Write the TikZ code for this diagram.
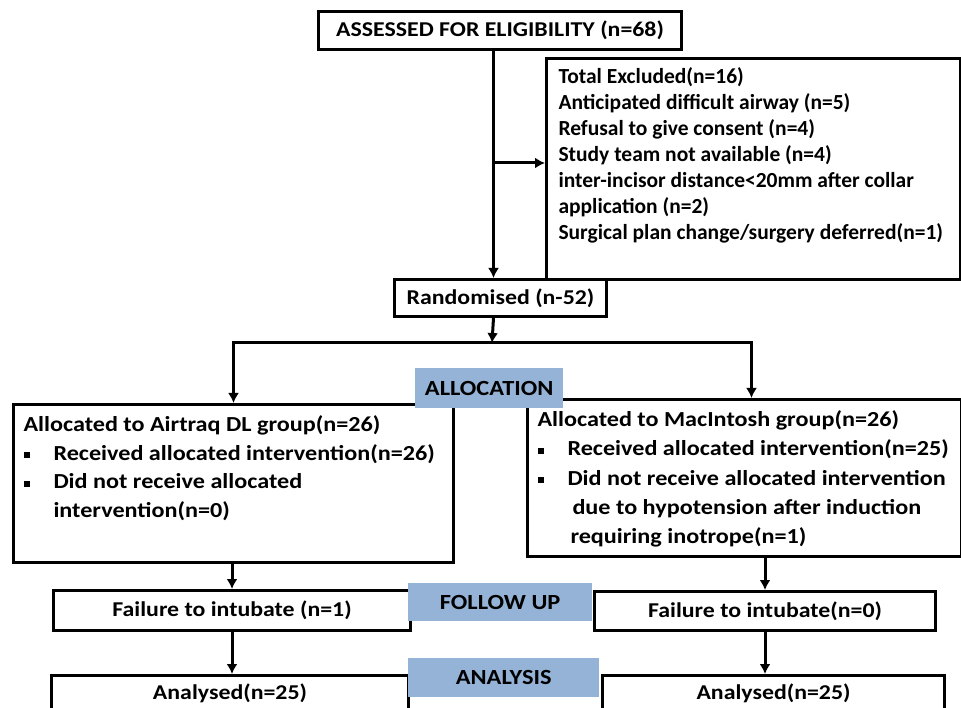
\documentclass[tikz,border=0pt]{standalone}
\usepackage{fontspec}
\setmainfont{Carlito}
\newfontfamily\widefont{Carlito}[FakeStretch=1.13]
\usetikzlibrary{positioning,arrows.meta}
\definecolor{tagblue}{HTML}{95B3D7}
\newcommand{\sqbul}{\par\hangindent=30pt\hangafter=1\noindent\makebox[30pt][l]{\rule[2pt]{6pt}{6pt}}}
\newcommand{\firstline}[1]{\rule{0pt}{#1}}
\tikzset{
  box/.style = {draw, line width=3pt, inner sep=0pt, anchor=north west,
                font=\widefont\bfseries\fontsize{21.1}{26}\selectfont},
  grp/.style = {box, inner xsep=10pt, font=\widefont\bfseries\fontsize{21.4}{28.5}\selectfont},
  tag/.style = {fill=tagblue, inner sep=0pt, anchor=north west,
                font=\widefont\bfseries\fontsize{21.6}{24}\selectfont},
  arr/.style = {line width=3pt, -{Latex[length=10pt,width=11pt]}}
}

\begin{document}
\begin{tikzpicture}[x=1pt, y=-1pt]
  \useasboundingbox (0,0) rectangle (961,708);
  % enrolment
  \node [box, minimum width=363, minimum height=38] (assess) at (317,10) {ASSESSED FOR ELIGIBILITY (n=68)};
  \node [box, inner xsep=12pt, font=\bfseries\fontsize{21.5}{26}\selectfont] (excl) at (545,57) {\parbox[c][221pt][t]{390pt}{\raggedright
    \firstline{25pt}Total Excluded(n=16)\\
    Anticipated difficult airway (n=5)\\
    Refusal to give consent (n=4)\\
    Study team not available (n=4)\\
    inter-incisor distance<20mm after collar\\
    application (n=2)\\
    Surgical plan change/surgery deferred(n=1)}};
  \node [box, minimum width=212, minimum height=37] (rand) at (393,278) {Randomised (n-52)};
  % allocation
  \node [grp] (leftg) at (12,403) {\parbox[c][158pt][t]{420pt}{\raggedright
    \firstline{27pt}Allocated to Airtraq DL group(n=26)
    \sqbul Received allocated intervention(n=26)
    \sqbul Did not receive allocated\newline
    intervention(n=0)}};
  \node [grp, font=\widefont\bfseries\fontsize{21.4}{29.3}\selectfont] (rightg) at (526,398) {\parbox[c][157pt][t]{414pt}{\raggedright
    \firstline{27pt}Allocated to MacIntosh group(n=26)
    \sqbul Received allocated intervention(n=25)
    \sqbul Did not receive allocated intervention\newline
    \hspace*{5pt}due to hypotension after induction\newline
    \hspace*{3pt}requiring inotrope(n=1)}};
  % follow up and analysis
  \node [box, minimum width=357, minimum height=40] (failL) at (52,589) {Failure to intubate (n=1)};
  \node [box, minimum width=341, minimum height=39] (failR) at (593,590) {Failure to intubate(n=0)};
  \node [box, minimum width=357, minimum height=50] (anaL) at (50,674) {\raisebox{1pt}[0pt][0pt]{Analysed(n=25)}};
  \node [box, minimum width=342, minimum height=50] (anaR) at (601,674) {\raisebox{1pt}[0pt][0pt]{Analysed(n=25)}};
  % stage labels
  \node [tag, minimum width=148, minimum height=40] (alloctag) at (415,368) {ALLOCATION};
  \node [tag, minimum width=184, minimum height=38] (followtag) at (408,583) {FOLLOW UP};
  \node [tag, minimum width=191, minimum height=39] (anatag) at (408,658) {ANALYSIS};
  % connectors
  \coordinate (trunk) at (492,163);
  \coordinate (split) at (492,343);
  \draw [arr] ([xshift=-6.5pt]assess.south) -- ([xshift=-7pt]rand.north);
  \draw [arr] (trunk) -- (trunk -| excl.west);
  \draw [arr] ([xshift=-7pt]rand.south) -- (split);
  \draw [arr] (split) -| (leftg.north);
  \draw [arr] (split) -| ([xshift=7pt]rightg.north);
  \draw [arr] (failL.north |- leftg.south) -- (failL.north);
  \draw [arr] (failR.north |- rightg.south) -- (failR.north);
  \draw [arr] (failL.south) -- (failL.south |- anaL.north);
  \draw [arr] (failR.south) -- (failR.south |- anaR.north);
\end{tikzpicture}
\end{document}
